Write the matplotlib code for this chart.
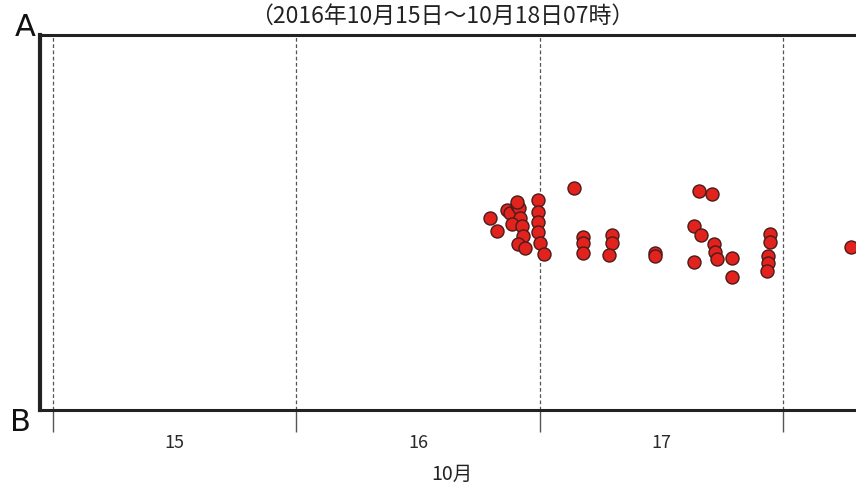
import matplotlib.pyplot as plt

plt.rcParams['font.family'] = ['Noto Sans CJK JP', 'DejaVu Sans']

# 発生時刻 [10月15日0時からの経過時間, h] と A-B 断面上の位置 [B=0, A=100]
hours = [43.1, 43.8, 44.8, 45.1, 45.8, 46.0, 45.8, 46.1, 45.3, 46.3, 46.4, 45.9, 46.6,
         47.8, 47.8, 47.8, 47.8, 48.0, 48.4,
         51.4, 52.3, 52.3, 52.3, 55.1, 55.1, 54.8, 59.4, 59.4,
         63.7, 65.0, 63.2, 63.9, 65.2, 65.3, 65.5, 63.2, 67.0, 67.0,
         70.7, 70.7, 70.5, 70.5, 70.4, 78.7]
pos = [51.2, 47.7, 53.3, 52.5, 54.7, 53.9, 55.5, 51.2, 49.6, 49.1, 46.4, 44.3, 43.2,
       56.0, 52.8, 50.1, 47.5, 44.5, 41.6,
       59.2, 46.1, 44.5, 41.9, 46.7, 44.5, 41.3, 41.9, 41.1,
       58.4, 57.6, 49.1, 46.7, 44.3, 42.1, 40.3, 39.5, 40.5, 35.5,
       46.9, 44.8, 41.1, 39.2, 37.1, 43.5]

day_starts = [0, 24, 48, 72]
day_mids = [12, 36, 60]
day_labels = ["15", "16", "17"]

fig = plt.figure(figsize=(8.56, 4.9), dpi=100)
ax = fig.add_axes([40 / 856, 80 / 490, 0.9626, 375 / 490])

for h in day_starts:
    ax.axvline(h, color="#555555", lw=0.9, ls=(0, (3, 2)), zorder=1)

ax.scatter(hours, pos, s=88, c="#e2221c", edgecolors="#4a1c1c", linewidths=1.0, zorder=3)

ax.set_xlim(-1.3, 80)
ax.set_ylim(0, 100)
ax.set_yticks([])

ax.set_xticks(day_starts)
ax.set_xticklabels([])
ax.tick_params(axis="x", which="major", length=16, width=1, color="#555555", direction="out")
ax.set_xticks(day_mids, minor=True)
ax.set_xticklabels(day_labels, minor=True)
ax.tick_params(axis="x", which="minor", length=0, pad=17, labelsize=13, labelcolor="#2a2a2a")

for side in ["left", "top", "bottom"]:
    ax.spines[side].set_color("#222222")
ax.spines["left"].set_linewidth(3.0)
ax.spines["top"].set_linewidth(2.2)
ax.spines["bottom"].set_linewidth(2.2)
ax.spines["right"].set_visible(False)

ax.set_xlabel("10月", fontsize=14, labelpad=9, color="#222222")

fig.text(442 / 856, 1 - 16 / 490, "（2016年10月15日～10月18日07時）",
         ha="center", va="center", fontsize=16.5, color="#222222")
fig.text(25 / 856, 1 - 27 / 490, "A", ha="center", va="center", fontsize=22,
         family=["Liberation Sans Narrow", "DejaVu Sans"], color="#111111")
fig.text(20 / 856, 1 - 422 / 490, "B", ha="center", va="center", fontsize=22,
         family=["Liberation Sans Narrow", "DejaVu Sans"], color="#111111")

fig.savefig("out.png", dpi=100)
